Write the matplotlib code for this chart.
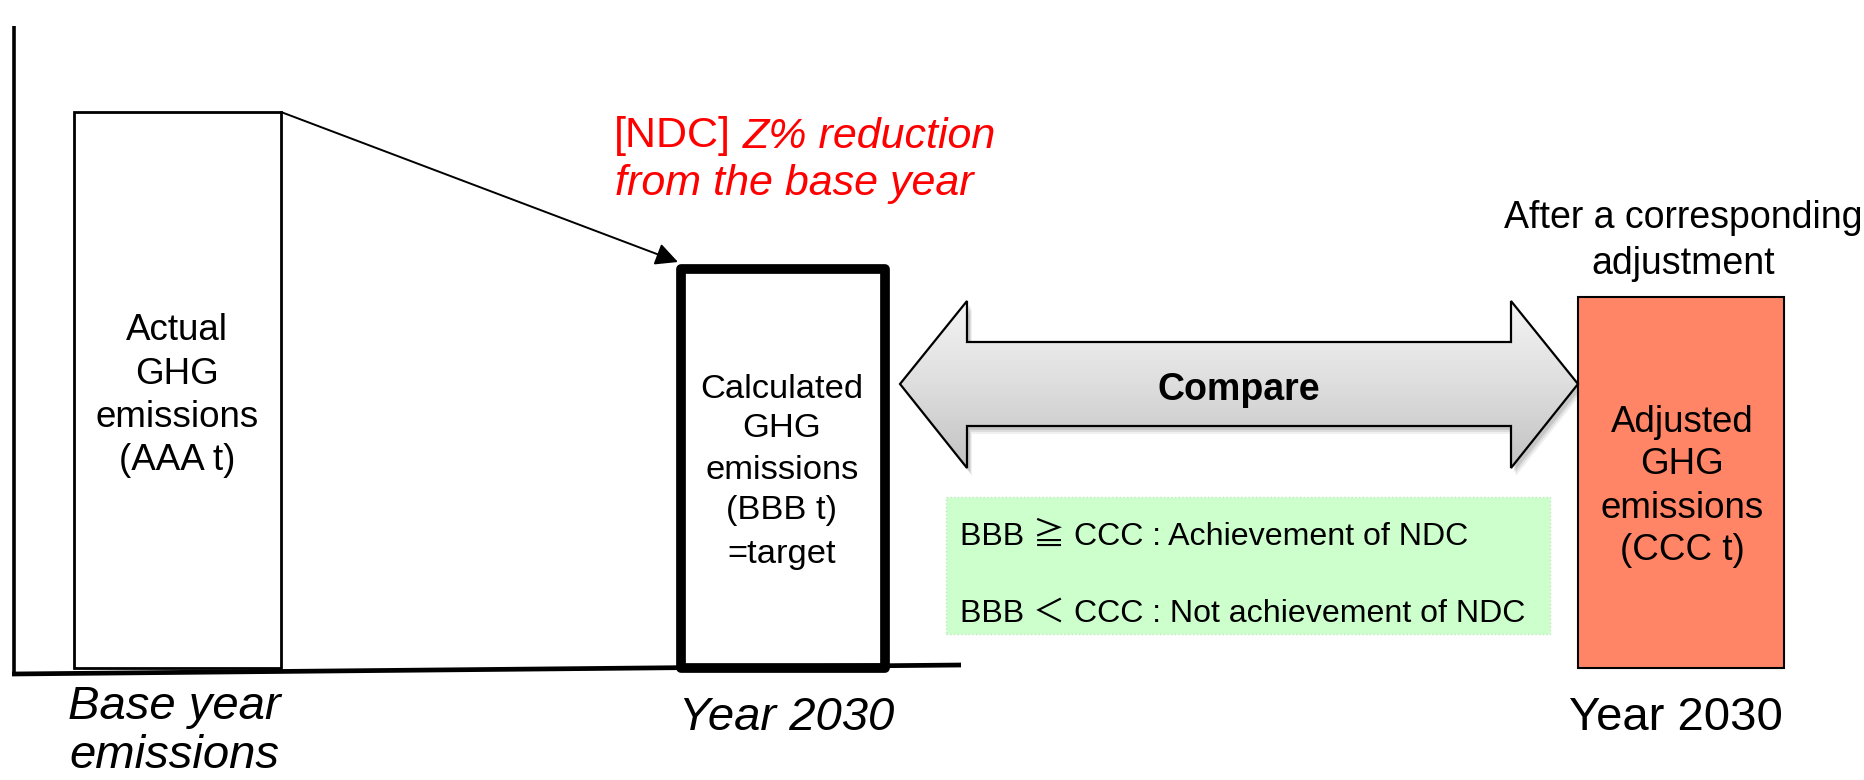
import matplotlib
matplotlib.use('Agg')
import matplotlib.pyplot as plt
import numpy as np
from matplotlib.patches import Polygon, Rectangle
from matplotlib.colors import LinearSegmentedColormap

plt.rcParams['font.family'] = ['Liberation Sans', 'Noto Sans CJK JP', 'DejaVu Sans']

# ---------------- data ----------------
bar_heights = [556, 399, 371]          # relative emission levels (diagram units)
bar_labels = [["Actual", "GHG", "emissions", "(AAA t)"],
              ["Calculated", "GHG", "emissions", "(BBB t)", "=target"],
              ["Adjusted", "GHG", "emissions", "(CCC t)"]]
category_labels = [["Base year", "emissions"], ["Year 2030"], ["Year 2030"]]
ndc_prefix = "[NDC]"
ndc_line1 = "Z% reduction"
ndc_line2 = "from the base year"
after_label = ["After a corresponding", "adjustment"]
compare_label = "Compare"
rule_lines = ["BBB ≧ CCC : Achievement of NDC",
              "BBB ＜ CCC : Not achievement of NDC"]

# ---------------- layout ----------------
W, H = 1864, 780
BASE = 668
PX = 100 / 72.0

def Y(p):
    return BASE - p

fig = plt.figure(figsize=(W / 100, H / 100), dpi=100)
ax = fig.add_axes([0, 0, 1, 1])
ax.set_xlim(0, W)
ax.set_ylim(BASE - H, BASE)
ax.axis('off')

bar_left = [74, 681, 1578]
bar_width = [207, 204, 206]
bar_face = ['white', 'white', '#FF8566']
bar_lw = [2.0, 7.0, 1.5]
bars = ax.bar(bar_left, bar_heights, width=bar_width, bottom=0, align='edge',
              color=bar_face, edgecolor='black', linewidth=bar_lw, zorder=3)
bars[1].set_joinstyle('round')

# axes lines
ax.plot([14, 14], [Y(26), Y(675)], color='black', lw=2.6, solid_capstyle='butt', zorder=4)
ax.plot([12, 961], [Y(674), Y(665)], color='black', lw=3.4, solid_capstyle='butt', zorder=4)

# reduction arrow
ax.annotate('', xy=(678, Y(262)), xytext=(281, Y(112)),
            arrowprops=dict(arrowstyle='-|>', color='black', lw=1.4,
                            mutation_scale=34, shrinkA=0, shrinkB=0), zorder=5)

def txt(x, pcy, s, size, ha='center', **kw):
    base = pcy + 0.36 * size * PX
    return ax.text(x, Y(base), s, fontsize=size, ha=ha, va='baseline', zorder=6, **kw)

# bar labels
for lines, cx, ys, sz in zip(bar_labels, [177, 782, 1682],
                              [[327, 371, 414, 457], [386, 425, 467, 507, 551], [419, 461, 505, 547]],
                              [26.5, 24.8, 26.5]):
    for s, yy in zip(lines, ys):
        txt(cx, yy, s, sz)

# category labels
txt(174, 702, category_labels[0][0], 34, style='italic')
txt(174, 751, category_labels[0][1], 34, style='italic')
txt(787, 713, category_labels[1][0], 34, style='italic')
txt(1676, 713, category_labels[2][0], 34)

# NDC red text
fig.canvas.draw()
r = fig.canvas.get_renderer()
t0 = txt(614, 132, ndc_prefix, 31, ha='left', color='#FF0000')
wpx = t0.get_window_extent(renderer=r).width
txt(614 + wpx + 0.278 * 31 * PX, 132, ndc_line1, 31, ha='left', color='#FF0000', style='italic')
txt(615, 179, ndc_line2, 31, ha='left', color='#FF0000', style='italic')

# after label
txt(1683, 215, after_label[0], 27)
txt(1683, 260, after_label[1], 27)

# double arrow
pts = [(900, 384), (967, 301), (967, 342), (1511, 342), (1511, 301), (1578, 384),
       (1511, 468), (1511, 426), (967, 426), (967, 468)]
for i, (dx, dy, a) in enumerate([(5, 8, 0.06), (4, 6, 0.08), (3, 4, 0.10)]):
    sh = Polygon([(x + dx, Y(y + dy)) for x, y in pts], closed=True,
                 facecolor='black', edgecolor='none', alpha=a, zorder=1)
    ax.add_patch(sh)
poly = Polygon([(x, Y(y)) for x, y in pts], closed=True, facecolor='none',
               edgecolor='black', lw=1.6, zorder=3, joinstyle='miter')
ax.add_patch(poly)
cmap = LinearSegmentedColormap.from_list('g', ['#f4f4f4', '#dedede', '#c2c2c2'])
grad = np.linspace(0, 1, 256).reshape(-1, 1)
im = ax.imshow(grad, cmap=cmap, extent=[900, 1578, Y(468), Y(301)], origin='upper',
               aspect='auto', zorder=2, interpolation='bilinear')
clip = Polygon([(x, Y(y)) for x, y in pts], closed=True, transform=ax.transData)
im.set_clip_path(clip)
txt(1239, 387, compare_label, 27, weight='bold')

# rules box
ax.add_patch(Rectangle((946, Y(634)), 604, 137, facecolor='#CCFFCC', edgecolor='#bfe9bf',
                       lw=1.0, linestyle=':', zorder=2))
txt(960, 533, rule_lines[0], 23.1, ha='left')
txt(960, 610, rule_lines[1], 23.1, ha='left')

ax.set_xlim(0, W)
ax.set_ylim(BASE - H, BASE)
fig.savefig('out.png', dpi=100)
